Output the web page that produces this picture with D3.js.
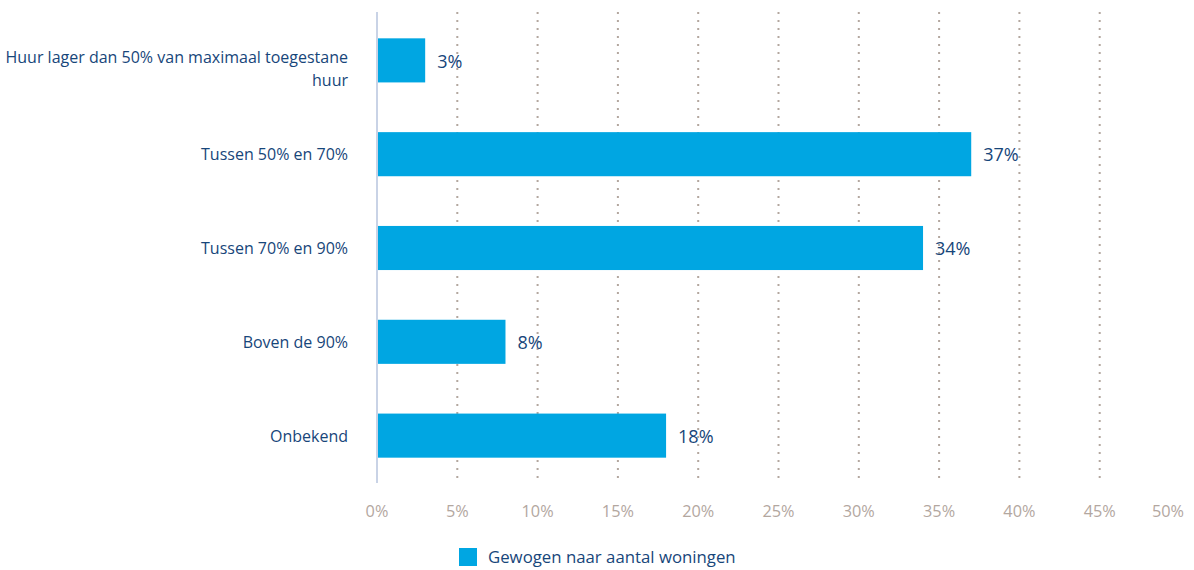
<!DOCTYPE html>
<html lang="nl">
<head>
<meta charset="utf-8">
<title>Huur t.o.v. maximaal toegestane huur</title>
<script src="https://d3js.org/d3.v7.min.js"></script>
<style>
  body { margin: 0; background: #fff; }
  svg text { font-family: "Open Sans", "Noto Sans", sans-serif; }
</style>
</head>
<body>
<div id="chart"></div>
<script>
// Data
const categories = [
  "Huur lager dan 50% van maximaal toegestane|huur",
  "Tussen 50% en 70%",
  "Tussen 70% en 90%",
  "Boven de 90%",
  "Onbekend"
];
const values = [3, 37, 34, 8, 18];
const ticks = [0, 5, 10, 15, 20, 25, 30, 35, 40, 45, 50];
const seriesName = "Gewogen naar aantal woningen";

// Dimensions
const W = 1194, H = 570;
const margin = { top: 13, right: 14, bottom: 87, left: 377 };
const innerW = 1180 - margin.left;
const innerH = H - margin.top - margin.bottom;

const svg = d3.select("#chart").append("svg")
  .attr("width", W)
  .attr("height", H);

const g = svg.append("g")
  .attr("transform", `translate(${margin.left},${margin.top})`);

// Scales
const x = d3.scaleLinear().domain([0, 50]).range([0, innerW]);
const y = d3.scaleBand().domain(categories).range([0, innerH]).paddingInner(0.53).paddingOuter(0.27);

// Gridlines
g.selectAll(".grid")
  .data(ticks.filter(t => t > 0 && t < 50))
  .enter()
  .append("line")
  .attr("class", "grid")
  .attr("x1", d => x(d)).attr("x2", d => x(d))
  .attr("y1", -1).attr("y2", innerH)
  .attr("stroke", "#b3a79f")
  .attr("stroke-width", 2)
  .attr("stroke-dasharray", "2,6");

// Axis line
g.append("line")
  .attr("x1", 0).attr("x2", 0)
  .attr("y1", -1).attr("y2", innerH)
  .attr("stroke", "#c9d3e6")
  .attr("stroke-width", 2);

// Bars
g.selectAll(".bar")
  .data(values)
  .enter()
  .append("rect")
  .attr("class", "bar")
  .attr("x", 1)
  .attr("y", (d, i) => y(categories[i]))
  .attr("width", d => x(d) - 1)
  .attr("height", y.bandwidth())
  .attr("fill", "#00a6e2");

// Value labels
g.selectAll(".label")
  .data(values)
  .enter()
  .append("text")
  .attr("class", "label")
  .attr("x", d => x(d) + 12)
  .attr("y", (d, i) => y(categories[i]) + y.bandwidth() / 2)
  .attr("dy", "0.4em")
  .style("font-size", "18px")
  .style("fill", "#17467a")
  .text(d => d + "%");

// Category labels
const cat = g.selectAll(".cat")
  .data(categories)
  .enter()
  .append("text")
  .attr("class", "cat")
  .attr("text-anchor", "end")
  .attr("x", -29)
  .attr("y", d => y(d) + y.bandwidth() / 2)
  .style("font-size", "16px")
  .style("fill", "#17467a");

cat.each(function (d) {
  const lines = d.split("|");
  const t = d3.select(this);
  lines.forEach((l, i) => {
    t.append("tspan")
      .attr("x", -29)
      .attr("dy", i === 0 ? (lines.length > 1 ? "0.18em" : "0.38em") : "1.4em")
      .text(l);
  });
});

// X tick labels
g.selectAll(".tick-label")
  .data(ticks)
  .enter()
  .append("text")
  .attr("class", "tick-label")
  .attr("x", d => d === 50 ? innerW + 4 : x(d))
  .attr("y", innerH + 34)
  .attr("text-anchor", d => d === 50 ? "end" : "middle")
  .style("font-size", "16.3px")
  .style("fill", "#b3a79f")
  .text(d => d + "%");

// Legend
const legend = svg.append("g")
  .attr("transform", `translate(459,548)`);
legend.append("rect")
  .attr("width", 18).attr("height", 18)
  .attr("fill", "#00a6e2");
legend.append("text")
  .attr("x", 29).attr("y", 9)
  .attr("dy", "0.35em")
  .style("font-size", "16.8px")
  .style("fill", "#17467a")
  .text(seriesName);
</script>
</body>
</html>
